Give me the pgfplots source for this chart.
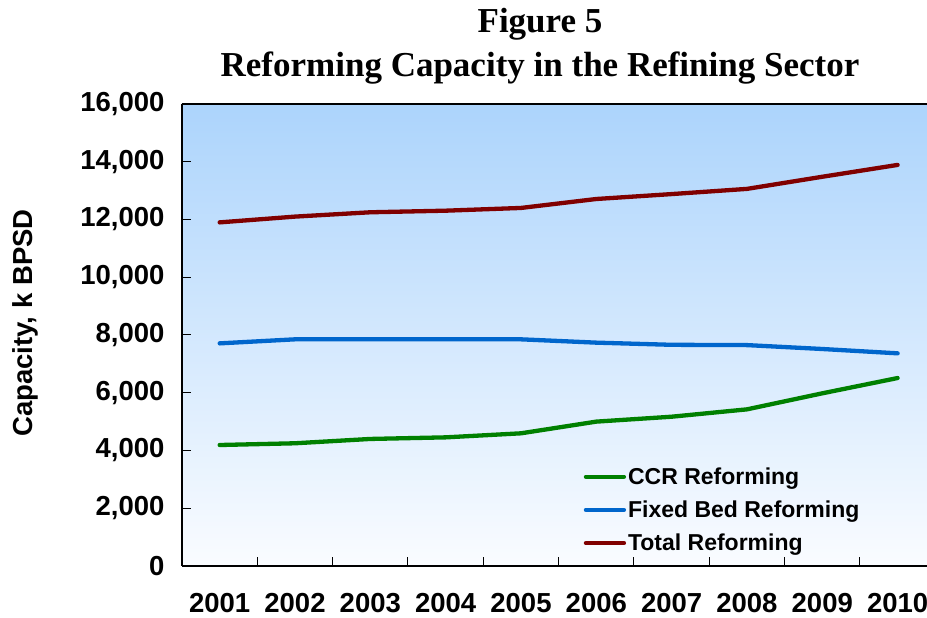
\documentclass[border=0pt]{standalone}
\usepackage{fontspec}
\setmainfont{Liberation Serif}
\setsansfont{Liberation Sans}
\usepackage{pgfplots}
\pgfplotsset{compat=1.18}
\definecolor{ccr}{RGB}{0,128,0}
\definecolor{fixb}{RGB}{0,102,204}
\definecolor{tot}{RGB}{128,0,0}
\definecolor{bgtop}{RGB}{172,212,252}
\definecolor{bgbot}{RGB}{250,252,255}
\begin{document}
\begin{tikzpicture}
\begin{axis}[
  scale only axis, width=745pt, height=462pt,
  xmin=0.5, xmax=10.39, ymin=0, ymax=16000,
  axis x line*=bottom, axis y line*=left,
  tick align=inside,
  scaled y ticks=false,
  ytick={0,2000,...,16000},
  xtick={1,...,10}, xticklabels={2001,2002,2003,2004,2005,2006,2007,2008,2009,2010},
  minor xtick={1.5,2.5,...,9.5},
  major x tick style={draw=none},
  minor tick length=9pt, major tick length=9pt,
  tick style={black, line width=1pt},
  axis line style={black, line width=1.5pt},
  ticklabel style={font=\sffamily\bfseries\fontsize{27.5}{31}\selectfont},
  /pgf/number format/assume math mode=true,
  /pgf/number format/1000 sep={,},
  yticklabel style={xshift=-14pt},
  xticklabel style={yshift=-24pt},
  axis background/.style={top color=bgtop, bottom color=bgbot},
  legend style={at={(0.535,0.222)}, anchor=north west, draw=none, fill=none,
    font=\sffamily\bfseries\fontsize{23}{27}\selectfont, row sep=11pt},
  legend cell align=left,
  legend image code/.code={\draw[#1] (0pt,0pt) -- (38pt,0pt);},
  every axis plot/.append style={line width=4.3pt, line cap=round, line join=round},
]
\addplot[ccr] coordinates {(1,4190) (2,4250) (3,4400) (4,4455) (5,4595) (6,5000) (7,5170) (8,5425) (9,5980) (10,6510)};
\addlegendentry{CCR Reforming}
\addplot[fixb] coordinates {(1,7710) (2,7850) (3,7850) (4,7850) (5,7850) (6,7735) (7,7660) (8,7650) (9,7515) (10,7365)};
\addlegendentry{Fixed Bed Reforming}
\addplot[tot] coordinates {(1,11900) (2,12100) (3,12250) (4,12305) (5,12400) (6,12710) (7,12880) (8,13060) (9,13480) (10,13890)};
\addlegendentry{Total Reforming}
\draw[black, line width=1.5pt] (rel axis cs:0,1) -- (rel axis cs:1,1);
\end{axis}
\node[font=\bfseries\fontsize{35}{40}\selectfont, anchor=base] at (358pt,533pt) {Figure 5};
\node[font=\bfseries\fontsize{35}{40}\selectfont, anchor=base] at (358pt,489pt) {Reforming Capacity in the Refining Sector};
\node[rotate=90, font=\sffamily\bfseries\fontsize{27.5}{31}\selectfont] at (-157pt,243pt) {Capacity, k BPSD};
\pgfresetboundingbox
\path (-182pt,-52pt) rectangle (745pt,566pt);
\end{tikzpicture}
\end{document}
